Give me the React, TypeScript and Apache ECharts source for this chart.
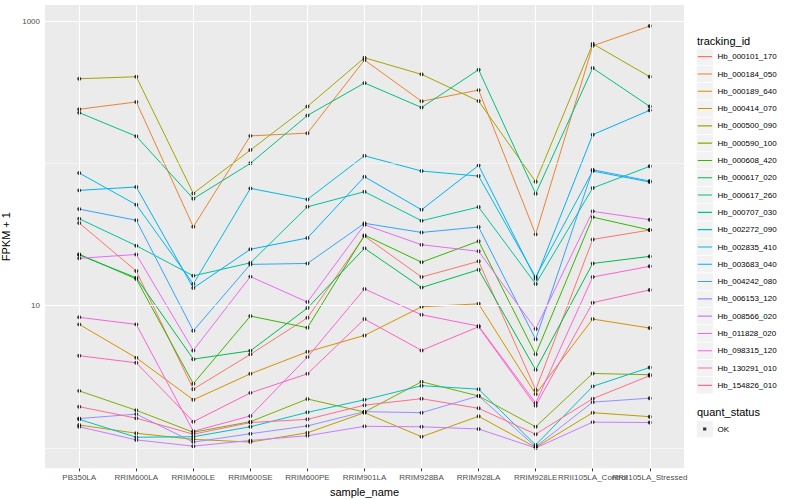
import { useEffect, useRef } from "react";
import * as echarts from "echarts";

const categories = [
  "PB350LA", "RRIM600LA", "RRIM600LE", "RRIM600SE", "RRIM600PE", "RRIM901LA",
  "RRIM928BA", "RRIM928LA", "RRIM928LE", "RRII105LA_Control", "RRII105LA_Stressed",
];

const Hb_000101_170 = [38.1, 17.5, 2.59, 4.55, 8.22, 30.8, 15.9, 20.5, 2.56, 29.2, 34.0];
const Hb_000184_050 = [240, 270, 35.8, 156, 163, 532, 273, 327, 31.7, 670, 922];
const Hb_000189_640 = [7.39, 4.3, 2.18, 3.32, 4.74, 6.18, 9.82, 10.3, 2.39, 8.05, 6.96];
const Hb_000414_070 = [1.45, 1.27, 1.15, 1.1, 1.28, 1.77, 1.2, 1.67, 1.01, 1.77, 1.66];
const Hb_000500_090 = [393, 406, 61.5, 124, 251, 552, 422, 274, 74.3, 692, 406];
const Hb_000590_100 = [2.52, 1.84, 1.29, 1.53, 2.21, 1.79, 2.92, 2.32, 1.41, 3.34, 3.27];
const Hb_000608_420 = [23.0, 15.4, 2.83, 8.45, 7.0, 31.3, 20.2, 28.4, 4.55, 41.9, 34.0];
const Hb_000617_020 = [22.7, 15.7, 4.21, 4.82, 9.62, 25.3, 13.4, 17.9, 3.54, 19.8, 22.2];
const Hb_000617_260 = [227, 155, 56.4, 100, 217, 367, 247, 455, 61.2, 467, 251];
const Hb_000707_030 = [40.8, 26.4, 16.2, 20.0, 49.5, 63.2, 39.5, 49.3, 14.2, 67.1, 95.3];
const Hb_002272_090 = [1.59, 1.19, 1.2, 1.41, 1.78, 2.18, 2.74, 2.59, 1.05, 2.71, 3.68];
const Hb_002835_410 = [85.5, 51.2, 14.2, 66.7, 55.8, 113, 88.3, 81.4, 15.9, 88.3, 73.9];
const Hb_003683_040 = [64.6, 68.2, 13.3, 24.9, 29.9, 80.5, 47.2, 96.8, 15.4, 159, 236];
const Hb_004242_080 = [47.7, 39.8, 6.66, 19.5, 19.8, 37.9, 32.7, 35.7, 5.8, 90.2, 75.1];
const Hb_006153_120 = [1.61, 1.73, 1.1, 1.26, 1.43, 1.8, 1.77, 2.32, 1.02, 2.1, 2.24];
const Hb_008566_020 = [1.41, 1.14, 1.03, 1.13, 1.22, 1.42, 1.41, 1.36, 1.0, 1.52, 1.51];
const Hb_011828_020 = [21.5, 22.9, 4.85, 16.0, 10.6, 37.0, 26.8, 24.1, 6.85, 46.0, 40.2];
const Hb_098315_120 = [8.28, 7.39, 1.31, 1.68, 4.35, 13.1, 8.63, 7.19, 2.07, 15.9, 18.9];
const Hb_130291_010 = [4.45, 3.97, 1.53, 2.44, 3.32, 8.05, 4.85, 7.11, 1.98, 10.5, 12.9];
const Hb_154826_010 = [1.95, 1.62, 1.25, 1.51, 1.59, 2.0, 2.22, 1.9, 1.25, 2.22, 3.22];

const seriesNames = [
  "Hb_000101_170", "Hb_000184_050", "Hb_000189_640", "Hb_000414_070", "Hb_000500_090",
  "Hb_000590_100", "Hb_000608_420", "Hb_000617_020", "Hb_000617_260", "Hb_000707_030",
  "Hb_002272_090", "Hb_002835_410", "Hb_003683_040", "Hb_004242_080", "Hb_006153_120",
  "Hb_008566_020", "Hb_011828_020", "Hb_098315_120", "Hb_130291_010", "Hb_154826_010",
];
const seriesValues = [
  Hb_000101_170, Hb_000184_050, Hb_000189_640, Hb_000414_070, Hb_000500_090,
  Hb_000590_100, Hb_000608_420, Hb_000617_020, Hb_000617_260, Hb_000707_030,
  Hb_002272_090, Hb_002835_410, Hb_003683_040, Hb_004242_080, Hb_006153_120,
  Hb_008566_020, Hb_011828_020, Hb_098315_120, Hb_130291_010, Hb_154826_010,
];
const seriesColors = [
  "#F8766D", "#EA8331", "#D89000", "#C09B00", "#A3A500", "#7CAE00", "#39B600",
  "#00BB4E", "#00BF7D", "#00C1A3", "#00BFC4", "#00BAE0", "#00B0F6", "#35A2FF",
  "#9590FF", "#C77CFF", "#E76BF3", "#FA62DB", "#FF62BC", "#FF6C91",
];

const statusNames = ["OK"];
const yMajorBreaks = [10, 1000];
const yMinorBreaks = [1, 100];
const yMin = 0.72;
const yMax = 1296;
const xMin = -0.6;
const xMax = 10.6;

const FONT = "'Liberation Sans', Arial, Helvetica, sans-serif";

const lineKeyIcon =
  "path://M0,0h0.01v0.01h-0.01Z M2.2,7.9h14.4v1.1h-14.4Z M16.99,16.99h0.01v0.01h-0.01Z";
const pointKeyIcon =
  "path://M0,0h0.01v0.01h-0.01Z M7.6,6.8h3.2v3.2h-3.2Z M16.99,16.99h0.01v0.01h-0.01Z";

export default function App() {
  const ref = useRef<HTMLDivElement>(null);

  useEffect(() => {
    if (!ref.current) return;
    const chart = echarts.init(ref.current, undefined, { renderer: "svg" });
    const catIdx = categories.map((_, i) => i);
    // empty sentinel labels at the axis ends so that the real end labels are never dropped
    const labelValues = [xMin, ...catIdx, xMax];

    const lineSeries = seriesNames.map((name, s) => ({
      type: "line",
      name,
      data: seriesValues[s].map((v, i) => [i, v]),
      showSymbol: false,
      symbol: "none",
      lineStyle: { color: seriesColors[s], width: 1 },
      itemStyle: { color: seriesColors[s] },
      z: 2,
      silent: true,
    }));

    const points: number[][] = [];
    seriesValues.forEach((vals) => vals.forEach((v, i) => points.push([i, v])));

    const gridLines = {
      type: "line",
      name: "__grid",
      data: [],
      z: 1,
      silent: true,
      markLine: {
        silent: true,
        symbol: ["none", "none"],
        label: { show: false },
        animation: false,
        lineStyle: { color: "#ffffff", type: "solid" },
        data: [
          ...yMinorBreaks.map((v) => ({ yAxis: v, lineStyle: { color: "#ffffff", width: 0.55, type: "solid" } })),
          ...yMajorBreaks.map((v) => ({ yAxis: v, lineStyle: { color: "#ffffff", width: 1.1, type: "solid" } })),
          ...catIdx.map((i) => ({ xAxis: i, lineStyle: { color: "#ffffff", width: 1.1, type: "solid" } })),
        ],
      },
    };

    const keyRects = seriesNames.map((_, i) => ({
      type: "rect",
      shape: { x: 696.7, y: 48.4 + i * 17.3, width: 16.2, height: 16.5 },
      style: { fill: "#F2F2F2" },
      z: 0,
    }));

    const option: any = {
      animation: false,
      backgroundColor: "#ffffff",
      textStyle: { fontFamily: FONT },
      grid: {
        left: 45,
        top: 5,
        right: 116,
        bottom: 31.7,
        show: true,
        backgroundColor: "#EBEBEB",
        borderWidth: 0,
        containLabel: false,
        outerBoundsMode: "none",
      },
      xAxis: {
        type: "value",
        min: xMin,
        max: xMax,
        splitLine: { show: false },
        axisLine: { show: false },
        axisTick: { show: true, customValues: catIdx, length: 3, lineStyle: { color: "#333333", width: 1 } },
        axisLabel: {
          customValues: labelValues,
          formatter: (v: number) => {
            const i = Math.round(v);
            return Math.abs(v - i) < 1e-6 && categories[i] ? categories[i] : "";
          },
          fontSize: 8,
          color: "#4D4D4D",
          margin: 5,
          fontFamily: FONT,
          hideOverlap: false,
        },
        name: "sample_name",
        nameLocation: "middle",
        nameGap: 14,
        nameTextStyle: { fontSize: 11, color: "#000000", fontFamily: FONT },
      },
      yAxis: {
        type: "log",
        logBase: 10,
        min: yMin,
        max: yMax,
        splitLine: { show: false },
        axisLine: { show: false },
        axisTick: { show: true, customValues: yMajorBreaks, length: 3, lineStyle: { color: "#333333", width: 1 } },
        axisLabel: {
          customValues: yMajorBreaks,
          formatter: (v: number) => {
            const b = yMajorBreaks.find((x) => Math.abs(x - v) / x < 1e-6);
            return b ? String(b) : "";
          },
          fontSize: 8,
          color: "#4D4D4D",
          margin: 5,
          fontFamily: FONT,
        },
        name: "FPKM + 1",
        nameLocation: "middle",
        nameGap: 26,
        nameTextStyle: { fontSize: 11, color: "#000000", fontFamily: FONT },
      },
      legend: [
        {
          data: seriesNames.map((n) => ({ name: n, icon: lineKeyIcon })),
          orient: "vertical",
          left: 695.5,
          top: 48.2,
          padding: 0,
          itemWidth: 17,
          itemHeight: 17,
          itemGap: 0.3,
          selectedMode: false,
          itemStyle: { borderWidth: 0 },
          textStyle: { fontSize: 8, color: "#000000", fontFamily: FONT },
        },
        {
          data: statusNames.map((n) => ({ name: n, icon: pointKeyIcon })),
          orient: "vertical",
          left: 695.5,
          top: 420.6,
          padding: 0,
          itemWidth: 17,
          itemHeight: 17,
          selectedMode: false,
          itemStyle: { borderWidth: 0 },
          textStyle: { fontSize: 8, color: "#000000", fontFamily: FONT },
        },
      ],
      graphic: [
        {
          type: "text",
          x: 697,
          y: 40.7,
          style: { text: "tracking_id", fontSize: 11, fill: "#000000", fontFamily: FONT, verticalAlign: "middle" },
        },
        {
          type: "text",
          x: 697,
          y: 412.3,
          style: { text: "quant_status", fontSize: 11, fill: "#000000", fontFamily: FONT, verticalAlign: "middle" },
        },
        ...keyRects,
        {
          type: "rect",
          shape: { x: 696.7, y: 420.8, width: 16.2, height: 16.5 },
          style: { fill: "#F2F2F2" },
          z: 0,
        },
      ],
      series: [
        gridLines,
        ...lineSeries,
        {
          type: "scatter",
          name: statusNames[0],
          data: points,
          symbol: "circle",
          symbolSize: 4,
          itemStyle: { color: "#000000" },
          z: 3,
          silent: true,
        },
      ],
    };

    chart.setOption(option);
    return () => chart.dispose();
  }, []);

  return (
    <div
      ref={ref}
      style={{ position: "fixed", left: 0, top: 0, width: 800, height: 500 }}
    />
  );
}
